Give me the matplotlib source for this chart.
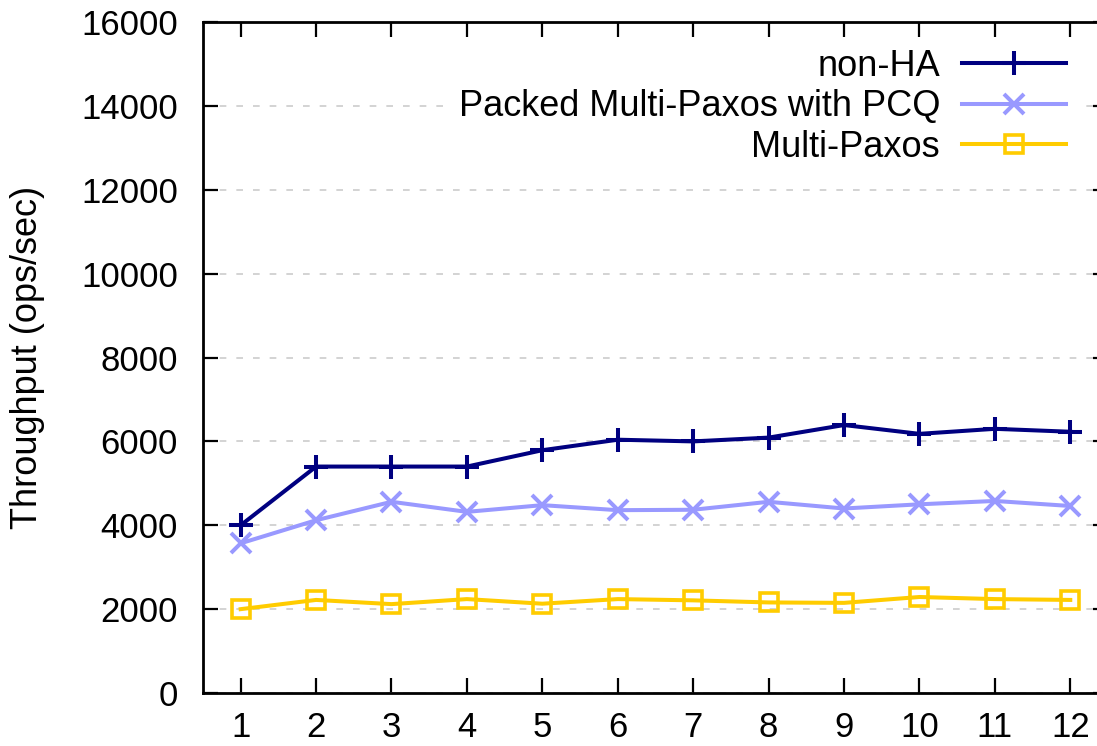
import matplotlib.pyplot as plt

# throughput per configuration, x = 1..12
x_vals = list(range(1, 13))
non_ha = [4000, 5400, 5400, 5400, 5790, 6040, 6000, 6090, 6390, 6180, 6300, 6230]
packed_pcq = [3570, 4120, 4560, 4320, 4480, 4360, 4370, 4560, 4400, 4500, 4580, 4460]
multi_paxos = [2000, 2220, 2120, 2240, 2130, 2240, 2210, 2160, 2150, 2290, 2240, 2220]

y_ticks = list(range(0, 16001, 2000))

plt.rcParams["font.family"] = ["Liberation Sans", "DejaVu Sans"]
FS = 26
TICK_FS = 25

fig = plt.figure(figsize=(10.97, 7.46), dpi=100)
ax = fig.add_axes([0.185, 0.071, 0.825, 0.8995])

ax.plot(x_vals, non_ha, color="#000080", lw=2.9, marker="+", ms=17, mew=2.9,
        label="non-HA")
ax.plot(x_vals, packed_pcq, color="#9999ff", lw=2.9, marker="x", ms=15, mew=2.9,
        label="Packed Multi-Paxos with PCQ")
ax.plot(x_vals, multi_paxos, color="#ffcc00", lw=2.9, marker="s", ms=13, mew=2.6,
        mfc="none", label="Multi-Paxos")

ax.set_xlim(0.5, 12.5)
ax.set_ylim(0, 16000)
ax.set_xticks(x_vals)
ax.set_yticks(y_ticks)
ax.tick_params(axis="both", direction="in", length=11, width=1.6,
               labelsize=TICK_FS, top=True, right=True)
ax.tick_params(axis="y", pad=18)
ax.tick_params(axis="x", pad=13)
for sp in ax.spines.values():
    sp.set_linewidth(2)

ax.yaxis.grid(True, color="#cccccc", linestyle=(0, (4, 6)), linewidth=1.2)
ax.set_axisbelow(True)

ax.set_ylabel("Throughput (ops/sec)", fontsize=FS, labelpad=26)

leg = ax.legend(loc="upper right", bbox_to_anchor=(0.986, 1.003), fontsize=FS,
                markerfirst=False, handlelength=2.9, handletextpad=0.6,
                frameon=True, fancybox=False, labelspacing=0.15, borderpad=0.3)
leg.get_frame().set_edgecolor("none")
leg.get_frame().set_facecolor("white")
leg.get_frame().set_alpha(1)

fig.savefig("out.png", dpi=100)
